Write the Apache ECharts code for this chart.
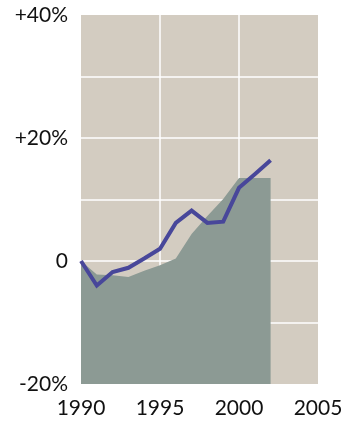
<!DOCTYPE html>
<html>
<head>
<meta charset="utf-8">
<script src="https://cdn.jsdelivr.net/npm/echarts@6/dist/echarts.min.js"></script>
<style>
  html, body { margin: 0; padding: 0; background: #ffffff; }
  #chart { width: 357px; height: 423px; }
</style>
</head>
<body>
<div id="chart"></div>
<script>
// Years on the horizontal axis
const years = [1990, 1991, 1992, 1993, 1994, 1995, 1996, 1997, 1998, 1999, 2000, 2001, 2002];
// Shaded series (percent change vs 1990)
const areaValues = [0, -2.2, -2.3, -2.6, -1.6, -0.7, 0.4, 4.4, 7.3, 10.1, 13.5, 13.5, 13.5];
// Line series (percent change vs 1990)
const lineValues = [0, -4.0, -1.8, -1.1, 0.4, 2.0, 6.2, 8.2, 6.2, 6.4, 11.9, 14.1, 16.4];
// Labelled y ticks
const yTickLabels = { '-20': '-20%', '0': '0', '20': '+20%', '40': '+40%' };
const xTicks = [1990, 1995, 2000, 2005];

const pairs = (xs, ys) => xs.map((x, i) => [x, ys[i]]);

const chart = echarts.init(document.getElementById('chart'), null, { renderer: 'canvas' });
const font = 'Lato, "Open Sans", sans-serif';

chart.setOption({
  animation: false,
  grid: {
    left: 81, right: 39, top: 15, bottom: 39,
    show: true, backgroundColor: '#d3ccc1', borderWidth: 0
  },
  xAxis: {
    type: 'value', min: 1990, max: 2005, interval: 5,
    axisLine: { show: false }, axisTick: { show: false },
    axisLabel: {
      color: '#111', fontSize: 21, fontFamily: font, margin: 14,
      formatter: v => xTicks.includes(v) ? String(v) : ''
    },
    splitLine: {
      show: true,
      lineStyle: { color: '#ffffff', width: 1.5 },
      showMinLine: false, showMaxLine: false
    }
  },
  yAxis: {
    type: 'value', min: -20, max: 40, interval: 10,
    axisLine: { show: false }, axisTick: { show: false },
    axisLabel: {
      color: '#111', fontSize: 21, fontFamily: font, margin: 13,
      formatter: v => yTickLabels[String(v)] || ''
    },
    splitLine: {
      show: true,
      lineStyle: { color: '#ffffff', width: 1.5 },
      showMinLine: false, showMaxLine: false
    }
  },
  series: [
    {
      type: 'line',
      data: pairs(years, areaValues),
      symbol: 'none',
      lineStyle: { width: 0 },
      areaStyle: { color: '#8c9a94', opacity: 1, origin: 'start' },
      z: 2
    },
    {
      type: 'line',
      data: pairs(years, lineValues),
      symbol: 'none',
      lineStyle: { color: '#48479a', width: 4, join: 'miter' },
      z: 3
    }
  ]
});
</script>
</body>
</html>
